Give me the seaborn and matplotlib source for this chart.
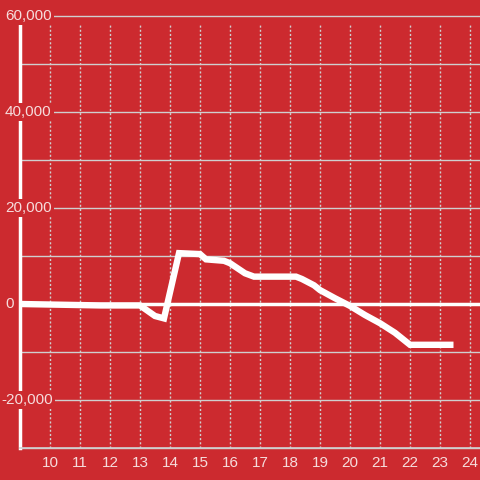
# ==========================================
# IMPORT LIBRARIES
# ==========================================

import matplotlib
matplotlib.use("Agg")
import matplotlib.pyplot as plt
import matplotlib.transforms as mtransforms
import seaborn as sns
import pandas as pd

# ==========================================
# DATA
# ==========================================

hours = [9.0, 11.7, 13.0, 13.5, 13.8, 14.3, 15.0, 15.2, 15.8, 16.0,
         16.5, 16.8, 18.2, 18.4, 18.8, 19.0, 19.5, 20.0, 20.5, 21.0,
         21.5, 22.0, 23.45]
values = [0, -300, -300, -2500, -3000, 10600, 10400, 9300, 9000, 8500,
          6400, 5700, 5700, 5200, 3900, 2900, 1200, -400, -2300, -4000,
          -6000, -8500, -8500]

x_ticks = list(range(10, 25))
y_grid = list(range(-30000, 60001, 10000))
y_labels = [60000, 40000, 20000, 0, -20000]

df = pd.DataFrame({"hour": hours, "value": values})

# ==========================================
# STYLE
# ==========================================

bg = "#cc2a2f"
text_col = "#f6dcdc"
grid_col = "#cfcfcf"

sns.set_theme(style="white")
plt.rcParams["font.family"] = ["Liberation Sans", "DejaVu Sans"]

# ==========================================
# PLOT
# ==========================================

fig = plt.figure(figsize=(4.8, 4.8), dpi=100, facecolor=bg)
ax = fig.add_axes([20 / 480, 32 / 480, 460 / 480, 424 / 480])
ax.set_facecolor(bg)

ax.set_xlim(9, 9 + 460 / 30)
ax.set_ylim(-30000, -30000 + 424 / 4.8 * 1000)

# grid
for xv in x_ticks:
    ax.axvline(xv, color=grid_col, lw=1, ls=(0, (1.5, 1.5)), zorder=1)
for yv in y_grid:
    if yv == 0:
        continue
    ax.axhline(yv, color=grid_col, lw=1, zorder=1, clip_on=False)
ax.axhline(0, color="white", lw=2.5, zorder=2)

sns.lineplot(
    data=df,
    x="hour",
    y="value",
    color="white",
    linewidth=4.6,
    ax=ax,
    zorder=4,
)
for ln in ax.lines[-1:]:
    ln.set_solid_capstyle("butt")
    ln.set_solid_joinstyle("miter")

# spines
for side in ["top", "right"]:
    ax.spines[side].set_visible(False)
ax.spines["left"].set_color("white")
ax.spines["left"].set_linewidth(2.5)
ax.spines["bottom"].set_color(grid_col)
ax.spines["bottom"].set_linewidth(1.2)

# ticks
ax.set_xticks(x_ticks)
ax.set_xticklabels([str(t) for t in x_ticks])
ax.tick_params(axis="x", length=0, pad=5.5, labelsize=11, labelcolor=text_col)
ax.set_yticks([])
ax.set_xlabel("")
ax.set_ylabel("")

# y labels drawn over the axis with a background box
trans = mtransforms.blended_transform_factory(ax.transAxes, ax.transData)
for yv in y_labels:
    px = 1 if yv < 0 else 5
    ax.text(
        (px - 20) / 460, yv, f"{yv:,}",
        transform=trans, ha="left", va="center",
        fontsize=11, color=text_col, zorder=6, clip_on=False,
        bbox=dict(boxstyle="square,pad=0.15", facecolor=bg, edgecolor="none"),
    )

plt.savefig("out.png", dpi=100, facecolor=bg)
